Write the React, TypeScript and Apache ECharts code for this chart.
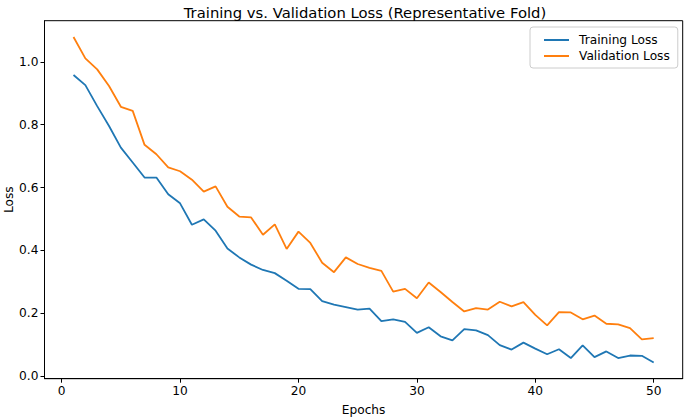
import React, { useEffect, useRef } from "react";
import * as echarts from "echarts";

const epochs: number[] = Array.from({ length: 50 }, (_, i) => i + 1);

const trainingLoss: number[] = [
  0.958, 0.926, 0.859, 0.796, 0.727, 0.68, 0.632, 0.632, 0.579, 0.55,
  0.482, 0.499, 0.463, 0.406, 0.378, 0.355, 0.338, 0.328, 0.304, 0.278,
  0.277, 0.239, 0.228, 0.22, 0.212, 0.215, 0.175, 0.181, 0.173, 0.138,
  0.156, 0.127, 0.114, 0.15, 0.146, 0.131, 0.099, 0.085, 0.107, 0.088,
  0.07, 0.086, 0.058, 0.098, 0.061, 0.079, 0.058, 0.066, 0.065, 0.044,
];

const validationLoss: number[] = [
  1.079, 1.011, 0.976, 0.923, 0.857, 0.844, 0.736, 0.706, 0.664, 0.652,
  0.625, 0.587, 0.604, 0.539, 0.508, 0.505, 0.45, 0.483, 0.405, 0.46,
  0.424, 0.361, 0.331, 0.378, 0.357, 0.345, 0.335, 0.269, 0.278, 0.248,
  0.298, 0.268, 0.236, 0.206, 0.217, 0.212, 0.237, 0.222, 0.236, 0.195,
  0.162, 0.204, 0.203, 0.181, 0.193, 0.167, 0.165, 0.153, 0.117, 0.121,
];

const xTicks: number[] = [0, 10, 20, 30, 40, 50];
const yTicks: number[] = [0, 0.2, 0.4, 0.6, 0.8, 1.0];

const FONT = "DejaVu Sans";
const FS = 12.2;

export default function App() {
  const ref = useRef<HTMLDivElement>(null);

  useEffect(() => {
    if (!ref.current) return;
    const chart = echarts.init(ref.current, null, { renderer: "svg" });
    const allVals = trainingLoss.concat(validationLoss);
    const yMinD = Math.min(...allVals);
    const yMaxD = Math.max(...allVals);
    const yPad = (yMaxD - yMinD) * 0.05;
    const xPad = (epochs[epochs.length - 1] - epochs[0]) * 0.05;

    chart.setOption({
      animation: false,
      backgroundColor: "#ffffff",
      textStyle: { fontFamily: FONT },
      title: {
        text: "Training vs. Validation Loss (Representative Fold)",
        left: 360,
        top: 0,
        textAlign: "center",
        textStyle: { fontFamily: FONT, fontSize: 14.8, fontWeight: "normal", color: "#000" },
      },
      legend: {
        orient: "vertical",
        left: 530,
        top: 27,
        padding: [7, 8, 6, 14],
        itemGap: 4,
        itemWidth: 25,
        itemHeight: 2,
        icon: "rect",
        backgroundColor: "rgba(255,255,255,0.8)",
        borderColor: "#cccccc",
        borderWidth: 1,
        borderRadius: 3,
        textStyle: { fontFamily: FONT, fontSize: FS, color: "#000", padding: [0, 0, 0, 5] },
        data: ["Training Loss", "Validation Loss"],
      },
      grid: {
        left: 44.5,
        right: 2.3,
        top: 20.7,
        bottom: 39.3,
        containLabel: false,
        outerBoundsMode: "none",
        show: true,
        borderColor: "#000",
        borderWidth: 1,
        backgroundColor: "transparent",
      },
      xAxis: {
        type: "value",
        min: epochs[0] - xPad,
        max: epochs[epochs.length - 1] + xPad,
        name: "Epochs",
        nameLocation: "middle",
        nameGap: 25,
        nameMoveOverlap: false,
        nameTextStyle: { fontFamily: FONT, fontSize: FS, color: "#000" },
        splitLine: { show: false },
        axisLine: { show: true, onZero: false, lineStyle: { color: "#000", width: 1 } },
        axisTick: {
          show: true,
          length: 4,
          customValues: xTicks,
          lineStyle: { color: "#000", width: 1 },
        },
        axisLabel: {
          customValues: xTicks,
          margin: 6,
          fontFamily: FONT,
          fontSize: FS,
          color: "#000",
        },
      },
      yAxis: {
        type: "value",
        min: yMinD - yPad,
        max: yMaxD + yPad,
        name: "Loss",
        nameLocation: "middle",
        nameGap: 30,
        nameMoveOverlap: false,
        nameRotate: 90,
        nameTextStyle: { fontFamily: FONT, fontSize: FS, color: "#000" },
        splitLine: { show: false },
        axisLine: { show: true, onZero: false, lineStyle: { color: "#000", width: 1 } },
        axisTick: {
          show: true,
          length: 4,
          customValues: yTicks,
          lineStyle: { color: "#000", width: 1 },
        },
        axisLabel: {
          customValues: yTicks,
          margin: 6,
          fontFamily: FONT,
          fontSize: FS,
          color: "#000",
          formatter: (v: number) => v.toFixed(1),
        },
      },
      series: [
        {
          name: "Training Loss",
          type: "line",
          data: epochs.map((e, i) => [e, trainingLoss[i]]),
          showSymbol: false,
          symbol: "none",
          color: "#1f77b4",
          lineStyle: { color: "#1f77b4", width: 1.8 },
        },
        {
          name: "Validation Loss",
          type: "line",
          data: epochs.map((e, i) => [e, validationLoss[i]]),
          showSymbol: false,
          symbol: "none",
          color: "#ff7f0e",
          lineStyle: { color: "#ff7f0e", width: 1.8 },
        },
      ],
    });
    return () => chart.dispose();
  }, []);

  return (
    <div
      ref={ref}
      style={{ position: "fixed", left: 0, top: 0, width: 685, height: 418 }}
    />
  );
}
